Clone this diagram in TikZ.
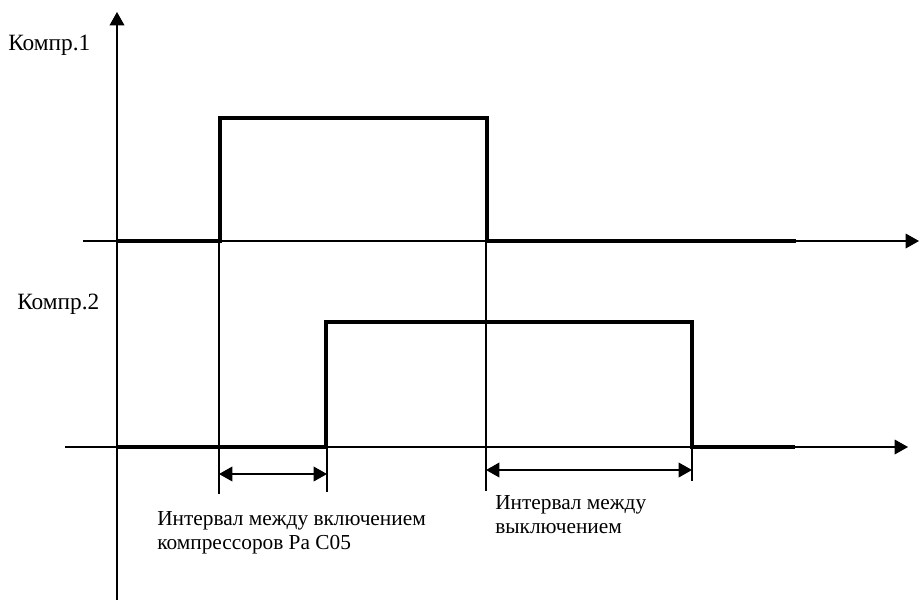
\documentclass[tikz,border=0pt]{standalone}
\usepackage{fontspec}
\setmainfont{Liberation Serif}
\usetikzlibrary{arrows.meta}
\tikzset{
axisline/.style={line width=1pt, -{Triangle[length=10pt,width=11pt]}},
pulse/.style={line width=3.6pt, line join=miter},
guide/.style={line width=1.5pt},
span/.style={line width=1.1pt, {Triangle[length=10pt,width=11pt]}-{Triangle[length=10pt,width=11pt]}},
comp/.style={font=\fontsize{17.5}{20}\selectfont, anchor=base west, inner sep=0pt},
note/.style={font=\fontsize{16}{17.3}\selectfont, anchor=base west, inner sep=0pt, align=left}
}
\begin{document}
\begin{tikzpicture}[x=0.75pt,y=-0.75pt]
\useasboundingbox (0,0) rectangle (919,604);

% axes
\coordinate (y0) at (117,600);
\coordinate (y1) at (117,12);
\coordinate (a1l) at (83,241);
\coordinate (a1r) at (919,241);
\coordinate (a2l) at (65,447);
\coordinate (a2r) at (908,447);
\draw[axisline] (y0) -- (y1);
\draw[axisline] (a1l) -- (a1r);
\draw[axisline] (a2l) -- (a2r);

% compressor 1
\coordinate (p1s) at (117,241);
\coordinate (p1on) at (220,241);
\coordinate (p1hi) at (220,118);
\coordinate (p1off) at (487,118);
\coordinate (p1lo) at (487,241);
\coordinate (p1e) at (796,241);
\draw[pulse] (p1s) -- (p1on) -- (p1hi) -- (p1off) -- (p1lo) -- (p1e);

% compressor 2
\coordinate (p2s) at (117,447);
\coordinate (p2on) at (326,447);
\coordinate (p2hi) at (326,322);
\coordinate (p2off) at (692,322);
\coordinate (p2lo) at (692,447);
\coordinate (p2e) at (795,447);
\draw[pulse] (p2s) -- (p2on) -- (p2hi) -- (p2off) -- (p2lo) -- (p2e);

% guide lines
\coordinate (g1) at (219,494);
\coordinate (g2) at (327,492);
\coordinate (g3) at (486,491);
\coordinate (g4) at (692,481);
\draw[guide] (219,118) -- (g1);
\draw[guide] (327,322) -- (g2);
\draw[guide] (486,118) -- (g3);
\draw[guide] (692,322) -- (g4);

% intervals
\coordinate (s1a) at (219,474);
\coordinate (s1b) at (327,474);
\coordinate (s2a) at (486,470);
\coordinate (s2b) at (692,470);
\draw[span] (s1a) -- (s1b);
\draw[span] (s2a) -- (s2b);

\node[comp] (c1) at (8,50) {Компр.1};
\node[comp] (c2) at (17,309) {Компр.2};
\node[note] (n1) at (157,549) {Интервал между включением\\компрессоров Pa C05};
\node[note] (n2) at (495,533) {Интервал между\\выключением};
\end{tikzpicture}
\end{document}
